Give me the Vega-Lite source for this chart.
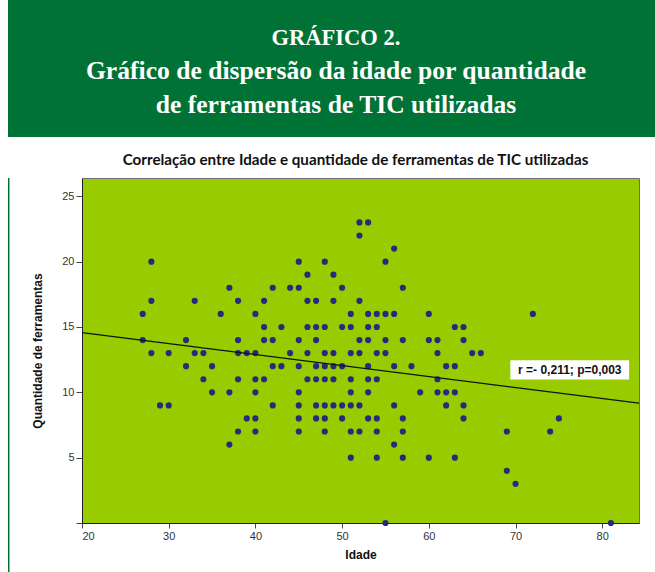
{
  "$schema": "https://vega.github.io/schema/vega-lite/v6.json",
  "background": "white",
  "padding": {"left": 7, "top": 0, "right": 0, "bottom": 0},
  "spacing": 15,
  "config": {"view": {"stroke": null}},
  "datasets": {
    "points": [
      {"idade":28,"qtd":20},{"idade":28,"qtd":17},{"idade":27,"qtd":16},{"idade":27,"qtd":14},{"idade":28,"qtd":13},
      {"idade":30,"qtd":13},{"idade":32,"qtd":14},{"idade":33,"qtd":17},{"idade":33,"qtd":13},{"idade":34,"qtd":13},
      {"idade":36,"qtd":16},{"idade":37,"qtd":18},{"idade":38,"qtd":17},{"idade":38,"qtd":14},{"idade":38,"qtd":13},
      {"idade":39,"qtd":13},{"idade":40,"qtd":16},{"idade":40,"qtd":13},
      {"idade":32,"qtd":12},{"idade":35,"qtd":12},{"idade":34,"qtd":11},{"idade":35,"qtd":10},{"idade":37,"qtd":10},
      {"idade":29,"qtd":9},{"idade":30,"qtd":9},{"idade":38,"qtd":11},{"idade":40,"qtd":11},{"idade":40,"qtd":10},
      {"idade":39,"qtd":8},{"idade":40,"qtd":8},{"idade":38,"qtd":7},{"idade":40,"qtd":7},{"idade":37,"qtd":6},
      {"idade":52,"qtd":23},{"idade":53,"qtd":23},{"idade":52,"qtd":22},{"idade":56,"qtd":21},
      {"idade":45,"qtd":20},{"idade":48,"qtd":20},{"idade":55,"qtd":20},{"idade":46,"qtd":19},{"idade":49,"qtd":19},
      {"idade":42,"qtd":18},{"idade":44,"qtd":18},{"idade":45,"qtd":18},{"idade":50,"qtd":18},{"idade":57,"qtd":18},
      {"idade":41,"qtd":17},{"idade":46,"qtd":17},{"idade":47,"qtd":17},{"idade":49,"qtd":17},{"idade":52,"qtd":17},
      {"idade":51,"qtd":16},{"idade":53,"qtd":16},{"idade":54,"qtd":16},{"idade":55,"qtd":16},{"idade":56,"qtd":16},{"idade":60,"qtd":16},
      {"idade":41,"qtd":15},{"idade":43,"qtd":15},{"idade":46,"qtd":15},{"idade":47,"qtd":15},{"idade":48,"qtd":15},
      {"idade":50,"qtd":15},{"idade":51,"qtd":15},{"idade":53,"qtd":15},{"idade":54,"qtd":15},
      {"idade":41,"qtd":14},{"idade":42,"qtd":14},{"idade":45,"qtd":14},{"idade":47,"qtd":14},{"idade":52,"qtd":14},
      {"idade":53,"qtd":14},{"idade":55,"qtd":14},{"idade":57,"qtd":14},{"idade":60,"qtd":14},{"idade":61,"qtd":14},
      {"idade":44,"qtd":13},{"idade":46,"qtd":13},{"idade":48,"qtd":13},{"idade":49,"qtd":13},{"idade":51,"qtd":13},
      {"idade":52,"qtd":13},{"idade":54,"qtd":13},{"idade":55,"qtd":13},{"idade":61,"qtd":13},
      {"idade":42,"qtd":12},{"idade":43,"qtd":12},{"idade":45,"qtd":12},{"idade":47,"qtd":12},{"idade":48,"qtd":12},
      {"idade":49,"qtd":12},{"idade":50,"qtd":12},{"idade":53,"qtd":12},{"idade":56,"qtd":12},{"idade":58,"qtd":12},{"idade":62,"qtd":12},
      {"idade":41,"qtd":11},{"idade":46,"qtd":11},{"idade":47,"qtd":11},{"idade":48,"qtd":11},{"idade":49,"qtd":11},
      {"idade":51,"qtd":11},{"idade":53,"qtd":11},{"idade":54,"qtd":11},{"idade":61,"qtd":11},
      {"idade":45,"qtd":10},{"idade":51,"qtd":10},{"idade":53,"qtd":10},{"idade":59,"qtd":10},{"idade":61,"qtd":10},{"idade":62,"qtd":10},
      {"idade":42,"qtd":9},{"idade":45,"qtd":9},{"idade":47,"qtd":9},{"idade":48,"qtd":9},{"idade":49,"qtd":9},
      {"idade":50,"qtd":9},{"idade":51,"qtd":9},{"idade":52,"qtd":9},{"idade":56,"qtd":9},{"idade":62,"qtd":9},
      {"idade":45,"qtd":8},{"idade":47,"qtd":8},{"idade":48,"qtd":8},{"idade":50,"qtd":8},{"idade":53,"qtd":8},
      {"idade":54,"qtd":8},{"idade":57,"qtd":8},
      {"idade":45,"qtd":7},{"idade":48,"qtd":7},{"idade":51,"qtd":7},{"idade":52,"qtd":7},{"idade":54,"qtd":7},{"idade":57,"qtd":7},
      {"idade":56,"qtd":6},
      {"idade":51,"qtd":5},{"idade":54,"qtd":5},{"idade":57,"qtd":5},{"idade":60,"qtd":5},
      {"idade":55,"qtd":0},
      {"idade":72,"qtd":16},{"idade":63,"qtd":15},{"idade":64,"qtd":15},{"idade":64,"qtd":14},{"idade":65,"qtd":13},{"idade":66,"qtd":13},
      {"idade":63,"qtd":12},{"idade":63,"qtd":10},{"idade":64,"qtd":9},{"idade":64,"qtd":8},
      {"idade":69,"qtd":7},{"idade":74,"qtd":7},{"idade":75,"qtd":8},{"idade":63,"qtd":5},{"idade":69,"qtd":4},{"idade":70,"qtd":3},
      {"idade":81,"qtd":0}
    ],
    "fit": [{"idade": 20, "qtd": 14.57}, {"idade": 84.24, "qtd": 9.17}],
    "header": [
      {"line": 1, "text": "GRÁFICO 2."},
      {"line": 2, "text": "Gráfico de dispersão da idade por quantidade"},
      {"line": 3, "text": "de ferramentas de TIC utilizadas"}
    ]
  },
  "vconcat": [
    {
      "width": 574,
      "height": 137,
      "view": {"fill": null, "stroke": null},
      "layer": [
        {
          "data": {"values": [{}]},
          "mark": {"type": "rect", "color": "#007236", "clip": false},
          "encoding": {
            "x": {"datum": -0.1289, "type": "quantitative", "scale": {"domain": [0, 1], "nice": false, "zero": false}, "axis": null},
            "x2": {"datum": 1}
          }
        },
        {
          "data": {"name": "header"},
          "transform": [{"filter": "datum.line == 1"}],
          "mark": {"type": "text", "font": "Liberation Serif", "fontWeight": "bold", "fontSize": 22.5, "color": "white", "baseline": "middle", "align": "center"},
          "encoding": {
            "x": {"datum": 0.4425, "type": "quantitative"},
            "y": {"field": "line", "type": "quantitative", "scale": {"domain": [-0.134, 3.955], "reverse": true, "nice": false, "zero": false}, "axis": null},
            "text": {"field": "text"}
          }
        },
        {
          "data": {"name": "header"},
          "transform": [{"filter": "datum.line > 1"}],
          "mark": {"type": "text", "font": "Liberation Serif", "fontWeight": "bold", "fontSize": 25.6, "color": "white", "baseline": "middle", "align": "center"},
          "encoding": {
            "x": {"datum": 0.4425, "type": "quantitative"},
            "y": {"field": "line", "type": "quantitative"},
            "text": {"field": "text"}
          }
        }
      ]
    },
    {
      "width": 557,
      "height": 345,
      "title": {"text": "Correlação entre Idade e quantidade de ferramentas de TIC utilizadas", "font": "Lato", "fontSize": 15.2, "fontWeight": "bold", "color": "#111", "offset": 9, "anchor": "middle", "frame": "group", "dx": -5},
      "view": {"fill": "#99CC00", "stroke": "#707070", "strokeWidth": 1},
      "layer": [
        {
          "data": {"name": "points"},
          "mark": {"type": "circle", "size": 38, "color": "#2A2A7C", "opacity": 1},
          "encoding": {
            "x": {"field": "idade", "type": "quantitative", "scale": {"domain": [20, 84.24], "nice": false, "zero": false},
              "axis": {"values": [20, 30, 40, 50, 60, 70, 80], "title": "Idade", "titleFont": "Liberation Sans", "titleFontSize": 12, "titleFontWeight": "bold", "titleColor": "#111", "titlePadding": 8,
                "labelFont": "Liberation Sans", "labelFontSize": 11, "labelColor": "#333", "labelPadding": 2, "tickSize": 5, "tickColor": "#444", "domainColor": "#222", "grid": false}},
            "y": {"field": "qtd", "type": "quantitative", "scale": {"domain": [0, 26.4], "nice": false},
              "axis": {"values": [0, 5, 10, 15, 20, 25], "labelExpr": "datum.value == 0 ? '' : datum.label", "title": "Quantidade de ferramentas", "titleFont": "Liberation Sans", "titleFontSize": 12, "titleFontWeight": "bold", "titleColor": "#111", "titlePadding": 17,
                "labelFont": "Liberation Sans", "labelFontSize": 11, "labelColor": "#333", "labelPadding": 2, "tickSize": 6, "tickColor": "#444", "domainColor": "#222", "grid": false}}
          }
        },
        {
          "data": {"name": "fit"},
          "mark": {"type": "line", "color": "#111", "strokeWidth": 1.2},
          "encoding": {
            "x": {"field": "idade", "type": "quantitative"},
            "y": {"field": "qtd", "type": "quantitative"}
          }
        },
        {
          "data": {"values": [{}]},
          "mark": {"type": "rect", "color": "white"},
          "encoding": {
            "x": {"datum": 69.4}, "x2": {"datum": 83.1},
            "y": {"datum": 12.45}, "y2": {"datum": 10.99}
          }
        },
        {
          "data": {"values": [{}]},
          "mark": {"type": "text", "font": "Liberation Sans", "fontWeight": "bold", "fontSize": 12, "color": "#111", "align": "center", "baseline": "middle"},
          "encoding": {
            "x": {"datum": 76.26}, "y": {"datum": 11.72},
            "text": {"value": "r =- 0,211; p=0,003"}
          }
        },
        {
          "data": {"values": [{}]},
          "mark": {"type": "rule", "color": "#007236", "strokeWidth": 1.5, "clip": false},
          "encoding": {
            "x": {"datum": 11.55}, "y": {"datum": 26.4}, "y2": {"datum": -3.75}
          }
        }
      ]
    }
  ]
}
